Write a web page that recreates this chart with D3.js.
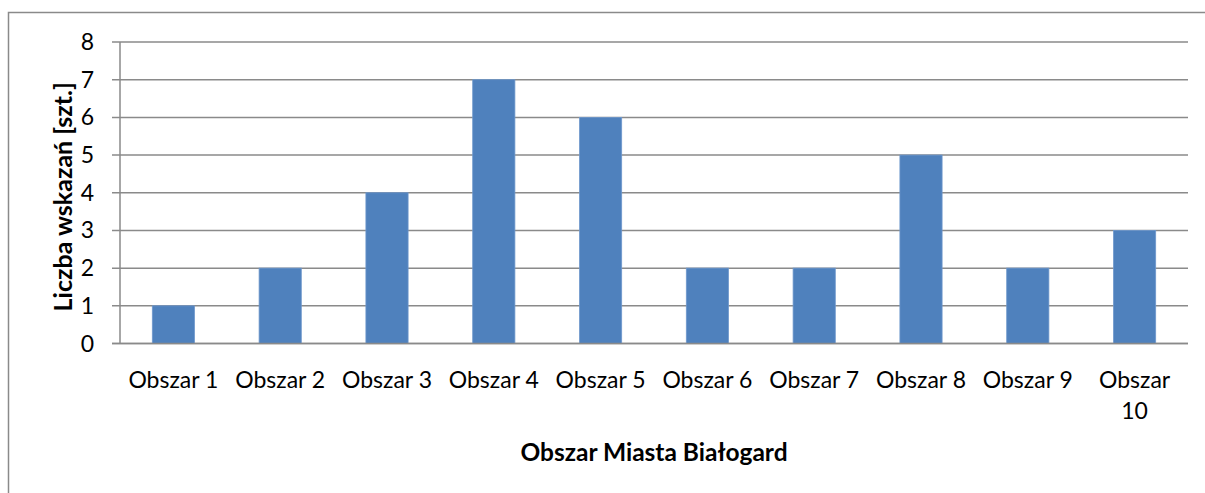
<!DOCTYPE html>
<html>
<head>
<meta charset="utf-8">
<script src="https://cdn.jsdelivr.net/npm/d3@7"></script>
<style>
  body { margin: 0; background: #fff; }
  svg { display: block; font-family: Lato, "Open Sans", sans-serif; }
</style>
</head>
<body>
<script>
  // chart data
  const categories = ["Obszar 1", "Obszar 2", "Obszar 3", "Obszar 4", "Obszar 5",
                      "Obszar 6", "Obszar 7", "Obszar 8", "Obszar 9", "Obszar 10"];
  const values = [1, 2, 4, 7, 6, 2, 2, 5, 2, 3];
  const yTicks = [0, 1, 2, 3, 4, 5, 6, 7, 8];
  const yTitle = "Liczba wskazań [szt.]";
  const xTitle = "Obszar Miasta Białogard";

  const W = 1205, H = 493;
  const plot = { left: 120, right: 1188, top: 42, bottom: 343.5 };
  const gridColor = "#8a8a8a";

  const svg = d3.select("body").append("svg")
    .attr("width", W).attr("height", H);

  // outer frame (cropped on right and bottom)
  svg.append("path")
    .attr("d", `M8.5,${H + 2} L8.5,12.5 L${W + 2},12.5`)
    .attr("fill", "none")
    .attr("stroke", gridColor)
    .attr("stroke-width", 1.5);

  const x = d3.scaleBand()
    .domain(categories)
    .range([plot.left, plot.right])
    .paddingInner(0.605)
    .paddingOuter(0.3025);

  const y = d3.scaleLinear()
    .domain([0, 8])
    .range([plot.bottom, plot.top]);

  // gridlines + y tick marks
  svg.append("g")
    .selectAll("line")
    .data(yTicks)
    .join("line")
    .attr("x1", plot.left - 8)
    .attr("x2", plot.right)
    .attr("y1", d => y(d))
    .attr("y2", d => y(d))
    .attr("stroke", gridColor)
    .attr("stroke-width", 1.5);

  // y axis line
  svg.append("line")
    .attr("x1", plot.left).attr("x2", plot.left)
    .attr("y1", plot.top).attr("y2", plot.bottom)
    .attr("stroke", gridColor)
    .attr("stroke-width", 1.5);

  // bars
  svg.append("g")
    .selectAll("rect")
    .data(values)
    .join("rect")
    .attr("x", (d, i) => x(categories[i]))
    .attr("width", x.bandwidth())
    .attr("y", d => y(d))
    .attr("height", d => y(0) - y(d))
    .attr("fill", "#4f81bd")
    .attr("stroke", "#6f98cc")
    .attr("stroke-width", 0.8);

  // redraw baseline over bars
  svg.append("line")
    .attr("x1", plot.left - 8).attr("x2", plot.right)
    .attr("y1", y(0)).attr("y2", y(0))
    .attr("stroke", gridColor)
    .attr("stroke-width", 1.5);

  // y tick labels
  svg.append("g")
    .selectAll("text")
    .data(yTicks)
    .join("text")
    .attr("x", 94)
    .attr("y", d => y(d) + 8)
    .attr("text-anchor", "end")
    .style("font-size", "23px")
    .style("fill", "#000")
    .text(d => d);

  // x tick labels (wrap "Obszar 10")
  const xl = svg.append("g")
    .selectAll("text")
    .data(categories)
    .join("text")
    .attr("text-anchor", "middle")
    .style("font-size", "23px")
    .style("fill", "#000");
  xl.each(function (d) {
    const t = d3.select(this);
    const cx = x(d) + x.bandwidth() / 2;
    const lines = d === "Obszar 10" ? ["Obszar", "10"] : [d];
    lines.forEach((ln, k) => {
      t.append("tspan")
        .attr("x", cx)
        .attr("y", 388 + k * 31)
        .text(ln);
    });
  });

  // axis titles
  svg.append("text")
    .attr("transform", `translate(72,${(plot.top + plot.bottom) / 2 + 4}) rotate(-90)`)
    .attr("text-anchor", "middle")
    .style("font-size", "25px")
    .style("font-weight", "bold")
    .text(yTitle);

  svg.append("text")
    .attr("x", (plot.left + plot.right) / 2)
    .attr("y", 461)
    .attr("text-anchor", "middle")
    .style("font-size", "24.5px")
    .style("font-weight", "bold")
    .text(xTitle);
</script>
</body>
</html>
